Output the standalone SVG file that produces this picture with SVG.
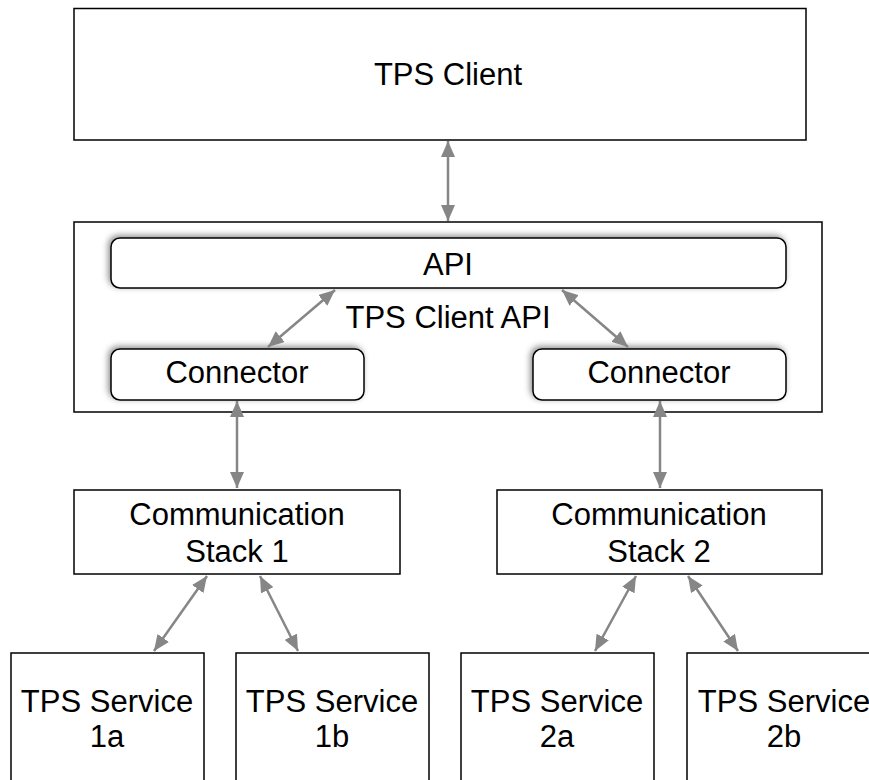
<svg xmlns="http://www.w3.org/2000/svg" width="869" height="780" viewBox="0 0 869 780">
<defs>
<style>
.box{fill:#fff;stroke:#000;stroke-width:1.5}
.rbox{fill:#fff;stroke:#000;stroke-width:1.5;filter:url(#sh)}
.t{font-family:"Liberation Sans",Arial,sans-serif;font-size:31px;fill:#000;text-anchor:middle}
.c{stroke:#868686;stroke-width:2.5;fill:none;marker-start:url(#ah);marker-end:url(#ah)}
</style>
<marker id="ah" viewBox="0 0 16 14" refX="16" refY="7" markerWidth="16" markerHeight="14" markerUnits="userSpaceOnUse" orient="auto-start-reverse">
<path d="M0,0 L16,7 L0,14 z" fill="#868686"/>
</marker>
<filter id="sh" x="-10%" y="-40%" width="120%" height="180%">
<feDropShadow dx="-2" dy="-2" stdDeviation="3" flood-color="#000" flood-opacity="0.45"/>
</filter>
</defs>
<rect width="869" height="780" fill="#fff"/>
<g id="tps-client">
<rect class="box" x="74" y="8.5" width="732" height="131.5"/>
<text class="t" x="448" y="85">TPS Client</text>
</g>
<g id="tps-client-api">
<rect class="box" x="74" y="222" width="748" height="190"/>
<text class="t" x="448" y="328">TPS Client API</text>
</g>
<g id="api">
<rect class="rbox" x="111" y="238" width="675" height="50" rx="9"/>
<text class="t" x="448" y="275">API</text>
</g>
<g id="connector-1">
<rect class="rbox" x="111" y="349" width="253" height="51" rx="9"/>
<text class="t" x="237" y="383">Connector</text>
</g>
<g id="connector-2">
<rect class="rbox" x="533" y="349" width="253" height="51" rx="9"/>
<text class="t" x="659" y="383">Connector</text>
</g>
<g id="comm-stack-1">
<rect class="box" x="74" y="490" width="326" height="84"/>
<text class="t" x="237" y="525">Communication</text>
<text class="t" x="237" y="562">Stack 1</text>
</g>
<g id="comm-stack-2">
<rect class="box" x="497" y="490" width="325" height="84"/>
<text class="t" x="659" y="525">Communication</text>
<text class="t" x="659" y="562">Stack 2</text>
</g>
<g id="service-1a">
<rect class="box" x="11" y="653" width="193" height="140"/>
<text class="t" x="107" y="712">TPS Service</text>
<text class="t" x="107" y="747">1a</text>
</g>
<g id="service-1b">
<rect class="box" x="236" y="653" width="193" height="140"/>
<text class="t" x="332" y="712">TPS Service</text>
<text class="t" x="332" y="747">1b</text>
</g>
<g id="service-2a">
<rect class="box" x="461" y="653" width="193" height="140"/>
<text class="t" x="557" y="712">TPS Service</text>
<text class="t" x="557" y="747">2a</text>
</g>
<g id="service-2b">
<rect class="box" x="687" y="653" width="193" height="140"/>
<text class="t" x="784" y="712">TPS Service</text>
<text class="t" x="784" y="747">2b</text>
</g>
<g id="connectors">
<line class="c" x1="448" y1="141" x2="448" y2="221"/>
<line class="c" x1="268" y1="347" x2="335" y2="290"/>
<line class="c" x1="562" y1="290" x2="628" y2="347"/>
<line class="c" x1="237" y1="401" x2="237" y2="488"/>
<line class="c" x1="660" y1="401" x2="660" y2="488"/>
<line class="c" x1="207" y1="576" x2="154" y2="651"/>
<line class="c" x1="260" y1="576" x2="298" y2="651"/>
<line class="c" x1="636" y1="576" x2="595" y2="651"/>
<line class="c" x1="688" y1="576" x2="738" y2="651"/>
</g>
</svg>
